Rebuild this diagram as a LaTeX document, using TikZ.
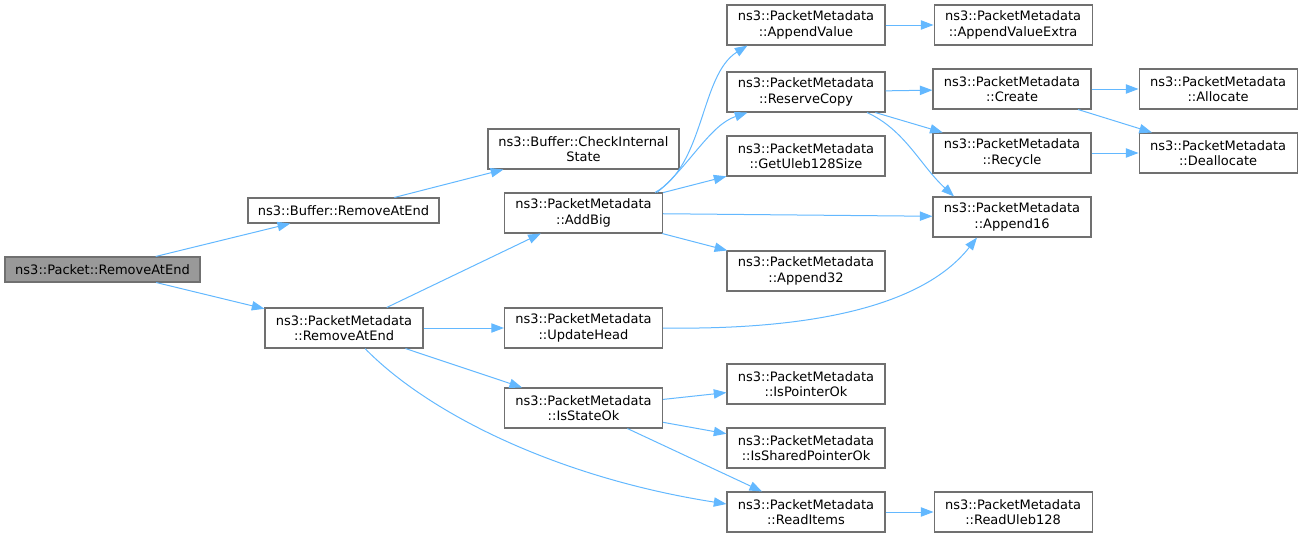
\documentclass[tikz,border=0pt]{standalone}
\usepackage{fontspec}
\setmainfont{DejaVu Sans}
\usetikzlibrary{arrows.meta, positioning, calc}
\definecolor{edgeblue}{HTML}{63B8FF}
\definecolor{boxgrey}{HTML}{707070}
\definecolor{rootgrey}{HTML}{999999}

\begin{document}
\begin{tikzpicture}[x=0.75pt, y=-0.75pt, node distance=36pt,
        fn/.style={draw=boxgrey, fill=white, line width=0.8pt, align=center, inner sep=0pt,
            minimum width=118.5pt, minimum height=30pt, font=\fontsize{9.75}{11.5}\selectfont},
        wide/.style={fn, minimum width=143.25pt},
        edge/.style={draw=edgeblue, line width=0.75pt, -{Triangle[length=9.5pt, width=7pt]}}]
            \useasboundingbox (0,0) rectangle (1301,539);
            % nodes
            \node[fn, fill=rootgrey, minimum width=146.25pt, minimum height=18.75pt] (root) at (102.5,269.5) {ns3::Packet::RemoveAtEnd};
            \node[wide, minimum height=18.75pt] (bufRem) at (343.5,210.5) {ns3::Buffer::RemoveAtEnd};
            \node[fn] (pmRem) at (344,328) {ns3::PacketMetadata\\::RemoveAtEnd};
            \node[wide] (chk) at (583.5,149) {ns3::Buffer::CheckInternal\\State};
            \node[fn] (addBig) at (583.5,213) {ns3::PacketMetadata\\::AddBig};
            \node[fn] (updHead) at (583.5,328) {ns3::PacketMetadata\\::UpdateHead};
            \node[fn] (isState) at (583.5,408) {ns3::PacketMetadata\\::IsStateOk};
            \node[fn] (appVal) at (806,25) {ns3::PacketMetadata\\::AppendValue};
            \node[fn] (resCopy) at (806,92) {ns3::PacketMetadata\\::ReserveCopy};
            \node[fn] (getUleb) at (806,156) {ns3::PacketMetadata\\::GetUleb128Size};
            \node[fn] (app32) at (806,271) {ns3::PacketMetadata\\::Append32};
            \node[fn] (isPtr) at (806,384) {ns3::PacketMetadata\\::IsPointerOk};
            \node[fn] (isShPtr) at (806,448) {ns3::PacketMetadata\\::IsSharedPointerOk};
            \node[fn] (readItems) at (806,512) {ns3::PacketMetadata\\::ReadItems};
            \node[fn, right=of appVal] (appValEx) {ns3::PacketMetadata\\::AppendValueExtra};
            \node[fn] (create) at (1012,89) {ns3::PacketMetadata\\::Create};
            \node[fn] (recycle) at (1012,153) {ns3::PacketMetadata\\::Recycle};
            \node[fn] (app16) at (1012,217) {ns3::PacketMetadata\\::Append16};
            \node[fn, right=of readItems] (readUleb) {ns3::PacketMetadata\\::ReadUleb128};
            \node[fn, right=35.25pt of create] (alloc) {ns3::PacketMetadata\\::Allocate};
            \node[fn, right=35.25pt of recycle] (dealloc) {ns3::PacketMetadata\\::Deallocate};
            % calls
            \draw[edge] (root) -- (bufRem);
            \draw[edge] (root) -- (pmRem);
            \draw[edge] (bufRem) -- (chk);
            \draw[edge] (pmRem) -- (addBig);
            \draw[edge] (pmRem) -- (updHead);
            \draw[edge] (pmRem) -- (isState);
            \draw[edge] ($(pmRem.south)+(21,0)$) .. controls (430,415) and (560,478) .. ($(readItems.west)+(0,-8)$);
            \draw[edge] ($(addBig.north east)+(-8,0)$) .. controls (705,165) and (700,75) .. ($(appVal.south west)+(21,0)$);
            \draw[edge] ($(addBig.north east)+(-6,0)$) .. controls (690,165) and (710,125) .. ($(resCopy.south west)+(21,0)$);
            \draw[edge] (addBig) -- (getUleb);
            \draw[edge] (addBig) -- (app16);
            \draw[edge] (addBig) -- (app32);
            \draw[edge] (updHead.east) .. controls (800,330) and (920,310) .. ($(app16.south)+(-35,0)$);
            \draw[edge] (isState) -- (isPtr);
            \draw[edge] (isState) -- (isShPtr);
            \draw[edge] (isState) -- (readItems);
            \draw[edge] (readItems) -- (readUleb);
            \draw[edge] (appVal) -- (appValEx);
            \draw[edge] (resCopy) -- (create);
            \draw[edge] (resCopy) -- (recycle);
            \draw[edge] ($(resCopy.south)+(61,0)$) .. controls (905,130) and (920,165) .. ($(app16.north)+(-58,0)$);
            \draw[edge] (create) -- (alloc);
            \draw[edge] (create) -- (dealloc);
            \draw[edge] (recycle) -- (dealloc);
\end{tikzpicture}
\end{document}
